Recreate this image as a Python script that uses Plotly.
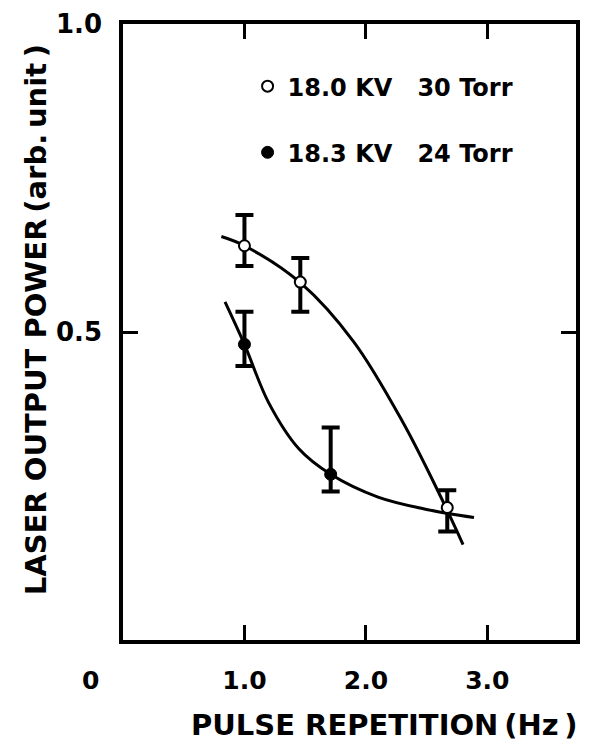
import plotly.graph_objects as go

# Data points
open_x = [1.0, 1.46, 2.67]
open_y = [0.64, 0.581, 0.215]
open_err_plus = [0.05, 0.039, 0.028]
open_err_minus = [0.033, 0.048, 0.039]

fill_x = [1.0, 1.71]
fill_y = [0.48, 0.269]
fill_err_plus = [0.053, 0.076]
fill_err_minus = [0.035, 0.028]

# Hand-drawn fitted curves
open_curve_x = [0.81, 1.0, 1.46, 1.9, 2.3, 2.61, 2.80]
open_curve_y = [0.655, 0.64, 0.58, 0.484, 0.355, 0.235, 0.155]
fill_curve_x = [0.84, 1.0, 1.2, 1.45, 1.71, 2.1, 2.5, 2.89]
fill_curve_y = [0.549, 0.48, 0.385, 0.31, 0.269, 0.232, 0.212, 0.199]

x_ticks = [1.0, 2.0, 3.0]
x_tick_labels = ["1.0", "2.0", "3.0"]
y_ticks = [0.5, 1.0]
y_tick_labels = ["0.5", "1.0"]

legend_open = "18.0 KV\u00a0\u00a0 30 Torr"
legend_fill = "18.3 KV\u00a0\u00a0 24 Torr"
x_title = "PULSE REPETITION\u2009(Hz\u2009)"
y_title = "LASER OUTPUT POWER\u2009(arb.\u2009unit\u2009)"

FONT = "DejaVu Sans"

fig = go.Figure()

fig.add_trace(go.Scatter(x=open_curve_x, y=open_curve_y, mode="lines",
                         line=dict(color="black", width=3, shape="spline", smoothing=1.0),
                         showlegend=False, hoverinfo="skip"))
fig.add_trace(go.Scatter(x=fill_curve_x, y=fill_curve_y, mode="lines",
                         line=dict(color="black", width=3, shape="spline", smoothing=1.0),
                         showlegend=False, hoverinfo="skip"))

fig.add_trace(go.Scatter(
    x=open_x, y=open_y, mode="markers", name=legend_open, legendgroup="a",
    marker=dict(symbol="circle", size=11, color="white", line=dict(color="black", width=2)),
    error_y=dict(type="data", symmetric=False, array=open_err_plus, arrayminus=open_err_minus,
                 color="black", thickness=4, width=9)))
fig.add_trace(go.Scatter(
    x=fill_x, y=fill_y, mode="markers", name=legend_fill, legendgroup="b",
    marker=dict(symbol="circle", size=12, color="black", line=dict(color="black", width=1)),
    error_y=dict(type="data", symmetric=False, array=fill_err_plus, arrayminus=fill_err_minus,
                 color="black", thickness=4, width=9)))

fig.update_layout(
    width=589, height=746,
    margin=dict(l=123, r=9, t=24, b=106),
    paper_bgcolor="white", plot_bgcolor="white",
    font=dict(family=FONT, color="black", weight="bold"),
    showlegend=True,
    legend=dict(x=0.275, y=0.935, xanchor="left", yanchor="top",
                font=dict(family=FONT, size=24, color="black", weight="bold"),
                bgcolor="rgba(0,0,0,0)", tracegroupgap=32, itemwidth=30),
    xaxis=dict(range=[0, 3.73], tickvals=x_ticks, ticktext=x_tick_labels,
               ticks="inside", ticklen=15, tickwidth=3, tickcolor="black",
               showline=True, linewidth=3.5, linecolor="black", mirror="allticks",
               showgrid=False, zeroline=False,
               tickfont=dict(family=FONT, size=25, weight="bold"), ticklabelstandoff=15),
    yaxis=dict(range=[0, 1.0], tickvals=y_ticks, ticktext=y_tick_labels,
               ticks="inside", ticklen=15, tickwidth=3, tickcolor="black",
               showline=True, linewidth=3.5, linecolor="black", mirror="allticks",
               showgrid=False, zeroline=False,
               tickfont=dict(family=FONT, size=26, weight="bold"), ticklabelstandoff=12),
    annotations=[
        dict(text="0", xref="paper", yref="paper", x=-0.072, y=-0.065,
             xanchor="center", yanchor="middle", showarrow=False,
             font=dict(family=FONT, size=25, color="black", weight="bold")),
        dict(text=x_title, xref="paper", yref="paper", x=0.578, y=-0.138,
             xanchor="center", yanchor="middle", showarrow=False,
             font=dict(family=FONT, size=29, color="black", weight="bold")),
        dict(text=y_title, xref="paper", yref="paper", x=-0.193, y=0.52,
             xanchor="center", yanchor="middle", showarrow=False, textangle=-90,
             font=dict(family=FONT, size=29, color="black", weight="bold")),
    ],
)

fig.write_html("out.html")
